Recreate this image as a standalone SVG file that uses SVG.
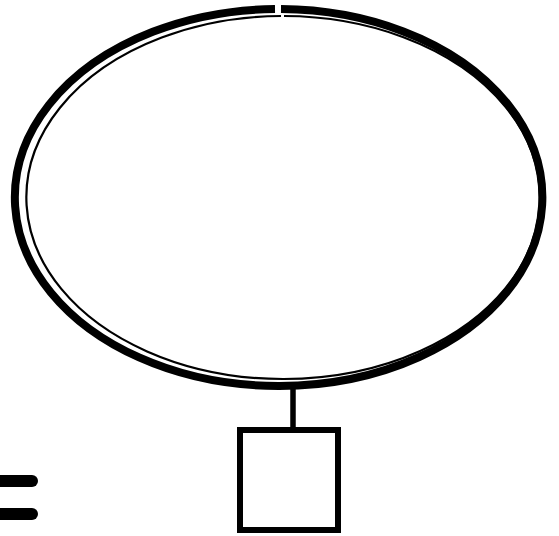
<svg xmlns="http://www.w3.org/2000/svg" width="559" height="536" viewBox="0 0 559 536">
<style>
.thick{fill:none;stroke:#000;stroke-width:8}
.thin{fill:none;stroke:#000;stroke-width:2.2}
.box{fill:#fff;stroke:#000;stroke-width:6}
.conn{stroke:#000;stroke-width:5.5;fill:none}
.eq{stroke:#000;stroke-width:12;stroke-linecap:round}
</style>
<rect width="559" height="536" fill="#fff"/>
<g id="ellipse-node">
<path class="thick" d="M 281 9 A 263.75 188.5 0 1 1 275 9.01"/>
<path class="thin" d="M 284 16 A 256.75 181.5 0 1 1 281 16.005"/>
</g>
<g id="connectors">
<line class="conn" x1="293" y1="389" x2="293" y2="430"/>
</g>
<g id="square-node">
<rect class="box" x="240" y="430" width="98" height="100"/>
</g>
<g id="equals">
<line class="eq" x1="-10" y1="481" x2="32" y2="481"/>
<line class="eq" x1="-10" y1="514" x2="32" y2="514"/>
</g>
</svg>
